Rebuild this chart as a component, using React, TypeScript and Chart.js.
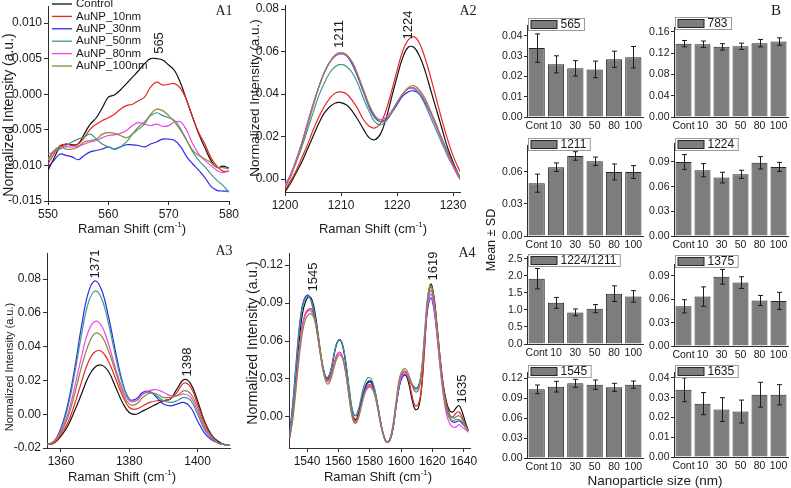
import React, { useEffect, useRef } from 'react';
import { Chart, registerables } from 'chart.js';
Chart.register(...registerables);

const PAGE_W = 791;
const PAGE_H = 488;
const YW = 46;
const XH = 20;
const SANS = '"Liberation Sans", Arial, Helvetica, sans-serif';
const SERIF = '"Liberation Serif", "Times New Roman", serif';
const INK = '#1a1a1a';
const AXIS = '#2e2e2e';
Chart.defaults.font.family = SANS;

const seriesNames = ['Control', 'AuNP_10nm', 'AuNP_30nm', 'AuNP_50nm', 'AuNP_80nm', 'AuNP_100nm'];
const seriesColors = ['#111111', '#ee2424', '#2b2be6', '#3a9a8a', '#ee44ee', '#8a8a3a'];

// ---------- A1 (550-580) ----------
const a1X = [550, 551, 552, 553, 554, 555, 556, 557, 558, 559, 560, 561, 562, 563, 564, 565, 566, 567, 568, 569, 570, 571, 572, 573, 574, 575, 576, 577, 578, 579, 580];
const a1Control = [-0.0107, -0.0090, -0.0074, -0.0070, -0.0071, -0.0070, -0.0056, -0.0042, -0.0033, -0.0019, -0.0004, -0.0001, 0.0006, 0.0015, 0.0024, 0.0033, 0.0043, 0.0050, 0.0050, 0.0048, 0.0041, 0.0033, 0.0015, -0.0009, -0.0033, -0.0056, -0.0075, -0.0093, -0.0103, -0.0101, -0.0104];
const a1Au10 = [-0.0098, -0.0084, -0.0072, -0.0070, -0.0072, -0.0070, -0.0061, -0.0049, -0.0042, -0.0037, -0.0033, -0.0028, -0.0021, -0.0016, -0.0014, -0.0009, -0.0004, 0.0010, 0.0017, 0.0013, 0.0014, 0.0015, 0.0008, -0.0009, -0.0033, -0.0054, -0.0070, -0.0089, -0.0101, -0.0108, -0.0108];
const a1Au30 = [-0.0102, -0.0093, -0.0084, -0.0086, -0.0088, -0.0092, -0.0086, -0.0081, -0.0079, -0.0077, -0.0074, -0.0077, -0.0074, -0.0071, -0.0071, -0.0072, -0.0074, -0.0070, -0.0067, -0.0063, -0.0063, -0.0065, -0.0074, -0.0088, -0.0098, -0.0107, -0.0117, -0.0129, -0.0135, -0.0136, -0.0136];
const a1Au50 = [-0.0093, -0.0081, -0.0077, -0.0072, -0.0067, -0.0063, -0.0060, -0.0056, -0.0063, -0.0070, -0.0074, -0.0077, -0.0074, -0.0067, -0.0056, -0.0046, -0.0039, -0.0030, -0.0026, -0.0030, -0.0033, -0.0037, -0.0049, -0.0065, -0.0081, -0.0093, -0.0102, -0.0112, -0.0121, -0.0128, -0.0138];
const a1Au80 = [-0.0084, -0.0081, -0.0074, -0.0074, -0.0074, -0.0073, -0.0070, -0.0067, -0.0065, -0.0061, -0.0058, -0.0057, -0.0055, -0.0051, -0.0044, -0.0040, -0.0042, -0.0044, -0.0042, -0.0045, -0.0044, -0.0039, -0.0039, -0.0051, -0.0070, -0.0084, -0.0093, -0.0100, -0.0107, -0.0110, -0.0108];
const a1Au100 = [-0.0091, -0.0079, -0.0074, -0.0077, -0.0077, -0.0074, -0.0067, -0.0065, -0.0063, -0.0056, -0.0054, -0.0055, -0.0058, -0.0061, -0.0056, -0.0049, -0.0042, -0.0028, -0.0021, -0.0023, -0.0030, -0.0039, -0.0051, -0.0065, -0.0079, -0.0086, -0.0091, -0.0096, -0.0103, -0.0103, -0.0105];

// ---------- A2 (1200-1232) ----------
const a2X = [1200, 1201, 1202, 1203, 1204, 1205, 1206, 1207, 1208, 1209, 1210, 1211, 1212, 1213, 1214, 1215, 1216, 1217, 1218, 1219, 1220, 1221, 1222, 1223, 1224, 1225, 1226, 1227, 1228, 1229, 1230, 1231, 1232];
const a2Control = [-0.006, -0.002, 0.003, 0.008, 0.014, 0.020, 0.026, 0.031, 0.034, 0.0358, 0.036, 0.0348, 0.032, 0.028, 0.0235, 0.0195, 0.0185, 0.021, 0.028, 0.038, 0.048, 0.057, 0.062, 0.062, 0.058, 0.051, 0.042, 0.033, 0.024, 0.015, 0.008, 0.002, -0.003];
const a2Au10 = [-0.005, -0.001, 0.004, 0.010, 0.016, 0.023, 0.029, 0.034, 0.038, 0.0405, 0.041, 0.040, 0.037, 0.033, 0.028, 0.025, 0.024, 0.026, 0.032, 0.041, 0.051, 0.060, 0.0655, 0.067, 0.064, 0.057, 0.048, 0.038, 0.028, 0.019, 0.011, 0.005, 0.000];
const a2Au30 = [-0.003, 0.002, 0.009, 0.017, 0.026, 0.035, 0.043, 0.050, 0.055, 0.058, 0.059, 0.058, 0.054, 0.048, 0.041, 0.034, 0.029, 0.027, 0.028, 0.031, 0.035, 0.039, 0.041, 0.0415, 0.040, 0.036, 0.031, 0.025, 0.019, 0.013, 0.007, 0.002, -0.002];
const a2Au50 = [-0.003, 0.002, 0.008, 0.015, 0.023, 0.031, 0.039, 0.045, 0.050, 0.053, 0.054, 0.053, 0.050, 0.045, 0.038, 0.032, 0.027, 0.0255, 0.027, 0.031, 0.036, 0.040, 0.0425, 0.0425, 0.040, 0.035, 0.029, 0.023, 0.017, 0.011, 0.006, 0.001, -0.003];
const a2Au80 = [-0.003, 0.002, 0.009, 0.017, 0.026, 0.035, 0.043, 0.050, 0.055, 0.058, 0.059, 0.058, 0.055, 0.049, 0.042, 0.035, 0.030, 0.028, 0.029, 0.032, 0.036, 0.040, 0.0425, 0.043, 0.041, 0.037, 0.031, 0.025, 0.018, 0.012, 0.006, 0.001, -0.003];
const a2Au100 = [-0.004, 0.001, 0.008, 0.016, 0.025, 0.034, 0.043, 0.050, 0.055, 0.0585, 0.0595, 0.0585, 0.055, 0.049, 0.042, 0.035, 0.030, 0.027, 0.0275, 0.031, 0.036, 0.040, 0.043, 0.044, 0.042, 0.038, 0.032, 0.026, 0.019, 0.013, 0.007, 0.002, -0.002];

// ---------- A3 (1356-1410) ----------
const a3X = [1356, 1358, 1360, 1362, 1364, 1366, 1368, 1370, 1372, 1374, 1376, 1378, 1380, 1382, 1384, 1386, 1388, 1390, 1392, 1394, 1396, 1398, 1400, 1402, 1404, 1406, 1408, 1410];
const a3Control = [-0.018, -0.017, -0.013, -0.007, 0.002, 0.012, 0.022, 0.028, 0.029, 0.025, 0.016, 0.007, 0.001, 0.000, 0.002, 0.004, 0.006, 0.008, 0.009, 0.015, 0.0205, 0.018, 0.008, -0.004, -0.012, -0.016, -0.018, -0.018];
const a3Au10 = [-0.018, -0.017, -0.012, -0.005, 0.006, 0.019, 0.031, 0.037, 0.037, 0.031, 0.021, 0.011, 0.004, 0.003, 0.005, 0.007, 0.008, 0.008, 0.009, 0.013, 0.0185, 0.016, 0.006, -0.005, -0.013, -0.017, -0.018, -0.018];
const a3Au30 = [-0.018, -0.016, -0.008, 0.006, 0.027, 0.052, 0.072, 0.079, 0.073, 0.057, 0.037, 0.019, 0.009, 0.009, 0.013, 0.0135, 0.010, 0.006, 0.005, 0.006, 0.007, 0.004, -0.004, -0.011, -0.015, -0.017, -0.018, -0.018];
const a3Au50 = [-0.018, -0.016, -0.009, 0.004, 0.024, 0.047, 0.066, 0.073, 0.068, 0.053, 0.034, 0.018, 0.009, 0.008, 0.012, 0.013, 0.011, 0.008, 0.007, 0.008, 0.010, 0.008, 0.000, -0.009, -0.014, -0.017, -0.018, -0.018];
const a3Au80 = [-0.018, -0.016, -0.010, 0.000, 0.016, 0.034, 0.049, 0.055, 0.052, 0.041, 0.027, 0.015, 0.008, 0.008, 0.012, 0.014, 0.0145, 0.013, 0.011, 0.011, 0.012, 0.010, 0.002, -0.008, -0.014, -0.017, -0.018, -0.018];
const a3Au100 = [-0.018, -0.016, -0.011, -0.002, 0.012, 0.028, 0.041, 0.048, 0.046, 0.037, 0.025, 0.013, 0.006, 0.006, 0.010, 0.0125, 0.012, 0.010, 0.010, 0.011, 0.014, 0.012, 0.004, -0.007, -0.013, -0.017, -0.018, -0.018];

// ---------- A4 (1529-1643) ----------
const a4X = [1529, 1531, 1533, 1535, 1537, 1539, 1541, 1543, 1545, 1547, 1549, 1551, 1553, 1555, 1557, 1559, 1561, 1563, 1565, 1567, 1569, 1571, 1573, 1575, 1577, 1579, 1581, 1583, 1585, 1587, 1589, 1591, 1593, 1595, 1597, 1599, 1601, 1603, 1605, 1607, 1609, 1611, 1613, 1615, 1617, 1619, 1621, 1623, 1625, 1627, 1629, 1631, 1633, 1635, 1637, 1639, 1641, 1643];
const a4Control = [-0.015, 0.005, 0.033, 0.060, 0.081, 0.091, 0.095, 0.093, 0.083, 0.066, 0.048, 0.035, 0.030, 0.035, 0.047, 0.058, 0.061, 0.055, 0.040, 0.019, 0.002, -0.002, 0.004, 0.014, 0.023, 0.028, 0.028, 0.022, 0.010, -0.004, -0.015, -0.020, -0.018, -0.008, 0.010, 0.025, 0.032, 0.033, 0.026, 0.014, 0.006, 0.007, 0.022, 0.056, 0.093, 0.105, 0.095, 0.072, 0.046, 0.025, 0.012, 0.005, 0.004, 0.007, 0.009, 0.004, -0.004, -0.011];
const a4Au10 = [-0.016, 0.002, 0.027, 0.053, 0.072, 0.082, 0.085, 0.085, 0.078, 0.064, 0.047, 0.034, 0.029, 0.032, 0.041, 0.049, 0.051, 0.046, 0.033, 0.016, 0.001, -0.003, 0.002, 0.012, 0.021, 0.025, 0.025, 0.020, 0.009, -0.005, -0.015, -0.020, -0.017, -0.006, 0.012, 0.028, 0.035, 0.036, 0.029, 0.017, 0.009, 0.010, 0.022, 0.054, 0.090, 0.103, 0.093, 0.070, 0.045, 0.024, 0.010, 0.002, 0.000, 0.003, 0.004, 0.000, -0.006, -0.011];
const a4Au30 = [-0.012, 0.012, 0.042, 0.070, 0.088, 0.095, 0.096, 0.090, 0.078, 0.062, 0.046, 0.034, 0.031, 0.036, 0.048, 0.058, 0.061, 0.055, 0.040, 0.021, 0.005, 0.001, 0.006, 0.015, 0.023, 0.027, 0.027, 0.021, 0.009, -0.005, -0.015, -0.020, -0.018, -0.008, 0.010, 0.025, 0.032, 0.033, 0.030, 0.026, 0.023, 0.024, 0.035, 0.060, 0.085, 0.094, 0.085, 0.064, 0.040, 0.020, 0.006, -0.001, -0.004, -0.004, -0.003, -0.005, -0.008, -0.011];
const a4Au50 = [-0.013, 0.010, 0.040, 0.068, 0.086, 0.094, 0.095, 0.091, 0.080, 0.064, 0.047, 0.035, 0.031, 0.036, 0.048, 0.058, 0.061, 0.056, 0.041, 0.022, 0.005, 0.001, 0.007, 0.018, 0.027, 0.031, 0.030, 0.023, 0.010, -0.004, -0.015, -0.020, -0.018, -0.008, 0.010, 0.026, 0.033, 0.034, 0.030, 0.025, 0.022, 0.023, 0.036, 0.064, 0.091, 0.100, 0.090, 0.068, 0.043, 0.022, 0.008, 0.001, -0.001, 0.000, 0.001, -0.002, -0.007, -0.011];
const a4Au80 = [-0.016, 0.001, 0.026, 0.052, 0.071, 0.081, 0.084, 0.083, 0.076, 0.062, 0.046, 0.033, 0.028, 0.031, 0.040, 0.048, 0.051, 0.046, 0.033, 0.015, 0.000, -0.004, 0.001, 0.011, 0.020, 0.024, 0.024, 0.019, 0.008, -0.005, -0.015, -0.020, -0.017, -0.007, 0.011, 0.027, 0.034, 0.035, 0.031, 0.025, 0.020, 0.021, 0.033, 0.061, 0.088, 0.097, 0.087, 0.064, 0.038, 0.017, 0.002, -0.005, -0.008, -0.008, -0.006, -0.008, -0.010, -0.012];
const a4Au100 = [-0.017, -0.001, 0.022, 0.047, 0.066, 0.077, 0.081, 0.081, 0.076, 0.063, 0.046, 0.032, 0.026, 0.029, 0.038, 0.046, 0.049, 0.045, 0.032, 0.014, -0.001, -0.005, 0.000, 0.010, 0.019, 0.023, 0.023, 0.018, 0.007, -0.006, -0.016, -0.020, -0.017, -0.005, 0.014, 0.031, 0.037, 0.038, 0.033, 0.026, 0.020, 0.021, 0.035, 0.066, 0.095, 0.104, 0.093, 0.069, 0.043, 0.021, 0.006, -0.001, -0.003, -0.002, -0.002, -0.004, -0.008, -0.011];

// ---------- B (bar means ± SD) ----------
const sizeCategories = ['Cont', '10', '30', '50', '80', '100'];
const b565Mean = [0.034, 0.026, 0.024, 0.0235, 0.0285, 0.0295];
const b565Sd = [0.007, 0.0042, 0.0038, 0.0041, 0.004, 0.0053];
const b783Mean = [0.138, 0.137, 0.132, 0.133, 0.139, 0.142];
const b783Sd = [0.006, 0.006, 0.006, 0.006, 0.007, 0.007];
const b1211Mean = [0.0495, 0.0645, 0.075, 0.070, 0.060, 0.060];
const b1211Sd = [0.0085, 0.004, 0.004, 0.004, 0.0075, 0.006];
const b1224Mean = [0.090, 0.080, 0.071, 0.075, 0.089, 0.084];
const b1224Sd = [0.009, 0.008, 0.0065, 0.005, 0.0075, 0.0055];
const bRatioMean = [1.92, 1.21, 0.93, 1.04, 1.48, 1.40];
const bRatioSd = [0.30, 0.16, 0.10, 0.12, 0.23, 0.17];
const b1375Mean = [0.051, 0.0635, 0.089, 0.0815, 0.0585, 0.058];
const b1375Sd = [0.0085, 0.0125, 0.0095, 0.0075, 0.0065, 0.011];
const b1545Mean = [0.103, 0.107, 0.112, 0.110, 0.106, 0.110];
const b1545Sd = [0.0065, 0.008, 0.006, 0.007, 0.006, 0.0055];
const b1635Mean = [0.034, 0.027, 0.024, 0.023, 0.0315, 0.0315];
const b1635Sd = [0.006, 0.0056, 0.006, 0.0058, 0.0063, 0.0051];

// ---------- helpers ----------
type Txt = { text: string; x: number; y: number; size: number; rot?: boolean; family?: string; sup?: string; tail?: string; align?: CanvasTextAlign };

function drawTxt(ctx: CanvasRenderingContext2D, it: Txt) {
  ctx.save();
  ctx.translate(it.x, it.y);
  if (it.rot) ctx.rotate(-Math.PI / 2);
  ctx.fillStyle = INK;
  ctx.textBaseline = 'middle';
  const fam = it.family || SANS;
  const main = `${it.size}px ${fam}`;
  if (it.sup) {
    const supFont = `${Math.round(it.size * 0.65)}px ${fam}`;
    ctx.font = main;
    const w1 = ctx.measureText(it.text).width;
    const w3 = ctx.measureText(it.tail || '').width;
    ctx.font = supFont;
    const w2 = ctx.measureText(it.sup).width;
    const x0 = -(w1 + w2 + w3) / 2;
    ctx.textAlign = 'left';
    ctx.font = main;
    ctx.fillText(it.text, x0, 0);
    ctx.font = supFont;
    ctx.fillText(it.sup, x0 + w1, -it.size * 0.35);
    ctx.font = main;
    ctx.fillText(it.tail || '', x0 + w1 + w2, 0);
  } else {
    ctx.font = main;
    ctx.textAlign = it.align || 'center';
    ctx.fillText(it.text, 0, 0);
  }
  ctx.restore();
}

function frame(l: number, t: number, r: number, b: number) {
  return { padding: { left: l - YW, top: t, right: PAGE_W - r, bottom: PAGE_H - b - XH } };
}
const fitY = (s: any) => { s.width = YW; s.paddingTop = 0; s.paddingBottom = 0; s.paddingLeft = 0; s.paddingRight = 0; };
const fitX = (s: any) => { s.height = XH; s.paddingTop = 0; s.paddingBottom = 0; s.paddingLeft = 0; s.paddingRight = 0; };

type LinePanel = {
  area: [number, number, number, number];
  xs: number[];
  series: number[][];
  xMin: number; xMax: number; xStep: number;
  yMin: number; yMax: number; yStep: number; yDec: number;
  texts: Txt[];
  legend?: boolean;
};

function lineConfig(p: LinePanel) {
  const [l, t, r, b] = p.area;
  const deco = {
    id: 'deco',
    afterDraw(chart: any) {
      const ctx = chart.ctx;
      p.texts.forEach((it) => drawTxt(ctx, it));
      if (p.legend) {
        ctx.save();
        seriesNames.forEach((name, i) => {
          const y = 4 + i * 12.4;
          ctx.strokeStyle = seriesColors[i];
          ctx.lineWidth = 1.3;
          ctx.beginPath();
          ctx.moveTo(52, y);
          ctx.lineTo(72, y);
          ctx.stroke();
          drawTxt(ctx, { text: name, x: 76, y, size: 11.5, align: 'left' });
        });
        ctx.restore();
      }
    },
  };
  return {
    type: 'line',
    data: {
      datasets: p.series.map((ys, i) => ({
        label: seriesNames[i],
        data: p.xs.map((x, j) => ({ x, y: ys[j] })),
        borderColor: seriesColors[i],
        borderWidth: 1.2,
        pointRadius: 0,
        tension: 0.4,
        fill: false,
        order: 5 - i,
      })),
    },
    options: {
      animation: false,
      responsive: false,
      events: [],
      layout: frame(l, t, r, b),
      plugins: { legend: { display: false }, tooltip: { enabled: false } },
      scales: {
        x: {
          type: 'linear', min: p.xMin, max: p.xMax, afterFit: fitX,
          ticks: { stepSize: p.xStep, includeBounds: false, autoSkip: false, maxRotation: 0, padding: 2, color: INK, font: { size: 12, family: SANS }, callback: (v: any) => String(Math.round(v)) },
          grid: { display: true, drawOnChartArea: false, drawTicks: true, tickLength: 4, color: AXIS },
          border: { display: true, color: AXIS, width: 1 },
        },
        y: {
          type: 'linear', min: p.yMin, max: p.yMax, afterFit: fitY,
          ticks: { stepSize: p.yStep, includeBounds: false, autoSkip: false, padding: 2, color: INK, font: { size: 12, family: SANS }, callback: (v: any) => Number(v).toFixed(p.yDec) },
          grid: { display: true, drawOnChartArea: false, drawTicks: true, tickLength: 4, color: AXIS },
          border: { display: true, color: AXIS, width: 1 },
        },
      },
    },
    plugins: [deco],
  };
}

type BarPanel = {
  area: [number, number, number, number];
  name: string;
  mean: number[];
  sd: number[];
  yMax: number; yStep: number; yDec: number;
  boxTop: number;
  texts?: Txt[];
};

function barConfig(p: BarPanel) {
  const [l, t, r, b] = p.area;
  const deco = {
    id: 'deco',
    afterDatasetsDraw(chart: any) {
      const ctx = chart.ctx;
      const ys = chart.scales.y;
      const meta = chart.getDatasetMeta(0);
      ctx.save();
      ctx.strokeStyle = '#1c1c1c';
      ctx.lineWidth = 1;
      meta.data.forEach((bar: any, i: number) => {
        const x = Math.round(bar.x) + 0.5;
        const yT = ys.getPixelForValue(p.mean[i] + p.sd[i]);
        const yB = ys.getPixelForValue(p.mean[i] - p.sd[i]);
        ctx.beginPath();
        ctx.moveTo(x, yT); ctx.lineTo(x, yB);
        ctx.moveTo(x - 2.5, yT); ctx.lineTo(x + 2.5, yT);
        ctx.moveTo(x - 2.5, yB); ctx.lineTo(x + 2.5, yB);
        ctx.stroke();
      });
      ctx.restore();
    },
    afterDraw(chart: any) {
      const ctx = chart.ctx;
      ctx.save();
      ctx.font = `12px ${SANS}`;
      const tw = ctx.measureText(p.name).width;
      const bx = l + 1.5, by = p.boxTop + 0.5, bw = 4 + 26 + 3 + tw + 3, bh = 12;
      ctx.fillStyle = '#ffffff';
      ctx.fillRect(bx, by, bw, bh);
      ctx.strokeStyle = '#9a9a9a';
      ctx.lineWidth = 1;
      ctx.strokeRect(bx, by, bw, bh);
      ctx.fillStyle = '#7d7d7d';
      ctx.fillRect(bx + 2.5, by + 2, 26, 8);
      ctx.strokeStyle = '#262626';
      ctx.strokeRect(bx + 2.5, by + 2, 26, 8);
      ctx.restore();
      drawTxt(ctx, { text: p.name, x: bx + 32, y: by + 6.5, size: 12, align: 'left' });
      (p.texts || []).forEach((it) => drawTxt(ctx, it));
    },
  };
  return {
    type: 'bar',
    data: {
      labels: sizeCategories,
      datasets: [{
        label: p.name,
        data: p.mean,
        backgroundColor: '#7d7d7d',
        borderColor: '#262626',
        borderWidth: 1,
        barPercentage: 0.84,
        categoryPercentage: 1.0,
      }],
    },
    options: {
      animation: false,
      responsive: false,
      events: [],
      layout: frame(l, t, r, b),
      plugins: { legend: { display: false }, tooltip: { enabled: false } },
      scales: {
        x: {
          type: 'category', afterFit: fitX, offset: true,
          ticks: { autoSkip: false, maxRotation: 0, padding: 3, color: INK, font: { size: 10.5, family: SANS } },
          grid: { display: false, drawTicks: false, tickLength: 0 },
          border: { display: true, color: AXIS, width: 1 },
        },
        y: {
          type: 'linear', min: 0, max: p.yMax, afterFit: fitY,
          ticks: { stepSize: p.yStep, includeBounds: false, autoSkip: false, padding: 1.5, color: INK, font: { size: 10.5, family: SANS }, callback: (v: any) => Number(v).toFixed(p.yDec) },
          grid: { display: true, drawOnChartArea: false, drawTicks: true, tickLength: 3, color: AXIS },
          border: { display: true, color: AXIS, width: 1 },
        },
      },
    },
    plugins: [deco],
  };
}

const ylab = 'Normalized Intensity (a.u.)';
const xlab = { text: 'Raman Shift (cm', sup: '-1', tail: ')' };

const panels: any[] = [
  lineConfig({
    area: [48, 6, 229, 201], xs: a1X,
    series: [a1Control, a1Au10, a1Au30, a1Au50, a1Au80, a1Au100],
    xMin: 550, xMax: 580, xStep: 10, yMin: -0.015, yMax: 0.0124, yStep: 0.005, yDec: 3,
    legend: true,
    texts: [
      { text: ylab, x: 9, y: 115, size: 14, rot: true },
      { ...xlab, x: 132, y: 229, size: 13 },
      { text: '565', x: 159, y: 43, size: 13, rot: true },
      { text: 'A1', x: 224, y: 11, size: 14, family: SERIF },
    ],
  }),
  lineConfig({
    area: [285, 5, 460, 192], xs: a2X,
    series: [a2Control, a2Au10, a2Au30, a2Au50, a2Au80, a2Au100],
    xMin: 1200, xMax: 1231.25, xStep: 10, yMin: -0.0061, yMax: 0.0819, yStep: 0.02, yDec: 2,
    texts: [
      { text: ylab, x: 255, y: 98, size: 13.5, rot: true },
      { ...xlab, x: 373, y: 229, size: 13 },
      { text: '1211', x: 339, y: 34, size: 13, rot: true },
      { text: '1224', x: 408, y: 25, size: 13, rot: true },
      { text: 'A2', x: 468, y: 11, size: 14, family: SERIF },
    ],
  }),
  lineConfig({
    area: [47, 253, 230, 448], xs: a3X,
    series: [a3Control, a3Au10, a3Au30, a3Au50, a3Au80, a3Au100],
    xMin: 1355.9, xMax: 1409.5, xStep: 20, yMin: -0.02, yMax: 0.0955, yStep: 0.02, yDec: 2,
    texts: [
      { text: ylab, x: 10, y: 367, size: 11, rot: true },
      { ...xlab, x: 122, y: 477, size: 13 },
      { text: '1371', x: 95, y: 264, size: 13, rot: true },
      { text: '1398', x: 187, y: 362, size: 13, rot: true },
      { text: 'A3', x: 224, y: 251, size: 14, family: SERIF },
    ],
  }),
  lineConfig({
    area: [289, 253, 470, 448], xs: a4X,
    series: [a4Control, a4Au10, a4Au30, a4Au50, a4Au80, a4Au100],
    xMin: 1528.5, xMax: 1644, xStep: 20, yMin: -0.0245, yMax: 0.1295, yStep: 0.03, yDec: 2,
    texts: [
      { text: ylab, x: 253, y: 343, size: 14, rot: true },
      { ...xlab, x: 378, y: 477, size: 13 },
      { text: '1545', x: 313, y: 277, size: 13, rot: true },
      { text: '1619', x: 433, y: 266, size: 13, rot: true },
      { text: '1635', x: 462, y: 389, size: 13, rot: true },
      { text: 'A4', x: 467, y: 253, size: 14, family: SERIF },
    ],
  }),
  barConfig({ area: [527, 25, 643, 117], name: '565', mean: b565Mean, sd: b565Sd, yMax: 0.0454, yStep: 0.01, yDec: 2, boxTop: 18,
    texts: [
      { text: 'B', x: 776, y: 11, size: 15, family: SERIF },
      { text: 'Mean \u00b1 SD', x: 492, y: 240, size: 12.5, rot: true },
      { text: 'Nanoparticle size (nm)', x: 655, y: 481, size: 13.5 },
    ] }),
  barConfig({ area: [674, 27, 788, 117], name: '783', mean: b783Mean, sd: b783Sd, yMax: 0.1694, yStep: 0.04, yDec: 2, boxTop: 17 }),
  barConfig({ area: [527, 145, 643, 236], name: '1211', mean: b1211Mean, sd: b1211Sd, yMax: 0.0853, yStep: 0.03, yDec: 2, boxTop: 138 }),
  barConfig({ area: [674, 143, 788, 236], name: '1224', mean: b1224Mean, sd: b1224Sd, yMax: 0.1131, yStep: 0.03, yDec: 2, boxTop: 138 }),
  barConfig({ area: [527, 256, 643, 344], name: '1224/1211', mean: bRatioMean, sd: bRatioSd, yMax: 2.588, yStep: 0.5, yDec: 1, boxTop: 254 }),
  barConfig({ area: [674, 264, 788, 346], name: '1375', mean: b1375Mean, sd: b1375Sd, yMax: 0.1054, yStep: 0.03, yDec: 2, boxTop: 255 }),
  barConfig({ area: [527, 372, 643, 458], name: '1545', mean: b1545Mean, sd: b1545Sd, yMax: 0.129, yStep: 0.03, yDec: 2, boxTop: 365 }),
  barConfig({ area: [674, 372, 788, 457], name: '1635', mean: b1635Mean, sd: b1635Sd, yMax: 0.043, yStep: 0.01, yDec: 2, boxTop: 365 }),
];

function ChartLayer({ config }: { config: any }) {
  const ref = useRef<HTMLCanvasElement>(null);
  useEffect(() => {
    const c = new Chart(ref.current as HTMLCanvasElement, config);
    return () => c.destroy();
  }, [config]);
  return (
    <canvas
      ref={ref}
      width={PAGE_W}
      height={PAGE_H}
      style={{ position: 'absolute', left: 0, top: 0, width: PAGE_W, height: PAGE_H }}
    />
  );
}

export default function App() {
  return (
    <div style={{ position: 'fixed', left: 0, top: 0, width: PAGE_W, height: PAGE_H, background: '#ffffff', overflow: 'hidden' }}>
      {panels.map((cfg, i) => (
        <ChartLayer key={i} config={cfg} />
      ))}
    </div>
  );
}
